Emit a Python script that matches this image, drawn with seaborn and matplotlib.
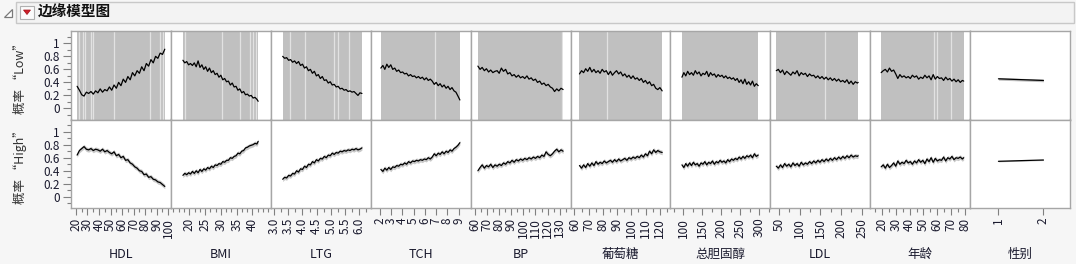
import matplotlib
matplotlib.use("Agg")
import matplotlib.pyplot as plt
import seaborn as sns
import pandas as pd
from matplotlib.ticker import MultipleLocator, FixedLocator, FuncFormatter, NullLocator
from matplotlib.patches import Rectangle, Polygon

# ---------------- data ----------------
variables = ["HDL", "BMI", "LTG", "TCH", "BP", "葡萄糖", "总胆固醇", "LDL", "年龄", "性别"]
row_labels = ["概率 \u201cLow\u201d", "概率 \u201cHigh\u201d"]
title = "边缘模型图"

hdl_x = [21, 23, 25, 27, 29, 31, 33, 35, 37, 39, 41, 43, 45, 47, 49, 51, 53, 55, 57, 59,
         61, 63, 65, 67, 69, 71, 73, 75, 77, 79, 81, 83, 85, 87, 89, 91, 93, 95, 97]
hdl_low = [.34, .28, .21, .19, .25, .23, .26, .22, .27, .24, .30, .25, .29, .27, .33, .28, .36, .31, .40, .35,
           .45, .40, .49, .44, .55, .50, .58, .54, .64, .58, .69, .65, .75, .70, .80, .77, .85, .83, .91]
hdl_high = [.64, .71, .74, .77, .73, .72, .74, .71, .73, .72, .70, .73, .69, .71, .68, .66, .69, .63, .65, .60,
            .62, .56, .57, .52, .50, .46, .44, .40, .39, .34, .35, .30, .31, .27, .26, .23, .22, .19, .16]

bmi_x = [18, 18.6, 19.2, 19.8, 20.4, 21, 21.6, 22.2, 22.8, 23.4, 24, 24.6, 25.2, 25.8, 26.4, 27, 27.6,
         28.2, 28.8, 29.4, 30, 30.6, 31.2, 31.8, 32.4, 33, 33.6, 34.2, 34.8, 35.4, 36, 36.6, 37.2,
         37.8, 38.4, 39, 39.6, 40.2, 40.8, 41.4, 41.8]
bmi_low = [.74, .70, .72, .67, .69, .66, .70, .64, .73, .63, .67, .60, .64, .57, .62, .55, .58,
           .52, .54, .48, .51, .44, .46, .41, .42, .36, .39, .33, .34, .28, .30, .24, .26,
           .21, .22, .19, .20, .16, .17, .14, .11]
bmi_high = [.33, .36, .34, .37, .35, .39, .36, .40, .37, .42, .39, .43, .41, .45, .43, .47, .45,
            .49, .48, .51, .50, .54, .53, .56, .56, .60, .59, .62, .63, .67, .66, .70, .71,
            .75, .76, .78, .79, .80, .82, .81, .85]

ltg_x = [3.30, 3.37, 3.44, 3.51, 3.58, 3.65, 3.72, 3.79, 3.86, 3.93, 4.00, 4.07, 4.14, 4.21,
         4.28, 4.35, 4.42, 4.49, 4.56, 4.63, 4.70, 4.77, 4.84, 4.91, 4.98, 5.05, 5.12, 5.19,
         5.26, 5.33, 5.40, 5.47, 5.54, 5.61, 5.68, 5.75, 5.82, 5.89, 5.96, 6.03, 6.10]
ltg_low = [.80, .77, .78, .74, .75, .71, .73, .69, .72, .66, .68, .62, .64, .58,
           .60, .54, .57, .50, .52, .46, .49, .43, .44, .39, .41, .36, .37, .33,
           .34, .30, .31, .28, .29, .26, .27, .25, .26, .23, .20, .24, .23]
ltg_high = [.27, .30, .29, .33, .32, .36, .35, .40, .38, .43, .42, .47, .45, .50,
            .49, .54, .52, .57, .55, .59, .58, .62, .60, .64, .63, .67, .65, .68,
            .67, .70, .69, .71, .70, .72, .71, .73, .72, .74, .72, .73, .75]

tch_x = [2.1, 2.28, 2.45, 2.63, 2.8, 2.98, 3.15, 3.33, 3.5, 3.68, 3.85, 4.03, 4.2, 4.38,
         4.55, 4.73, 4.9, 5.08, 5.25, 5.43, 5.6, 5.78, 5.95, 6.13, 6.3, 6.48, 6.65, 6.83,
         7.0, 7.18, 7.35, 7.53, 7.7, 7.88, 8.05, 8.23, 8.4, 8.58, 8.75, 8.93, 9.1]
tch_low = [.62, .66, .60, .68, .63, .67, .60, .62, .57, .59, .55, .56, .53, .54,
           .50, .52, .49, .50, .47, .49, .46, .48, .44, .47, .43, .45, .42, .37,
           .40, .35, .38, .33, .36, .31, .34, .29, .32, .27, .25, .19, .13]
tch_high = [.42, .39, .44, .41, .45, .42, .46, .45, .48, .47, .50, .49, .52, .50,
            .54, .52, .55, .54, .56, .55, .57, .56, .58, .57, .60, .58, .61, .66,
            .63, .67, .65, .69, .66, .70, .68, .72, .70, .74, .76, .79, .83]

bp_x = [62.7, 64.5, 66.2, 68, 69.7, 71.5, 73.2, 75, 76.7, 78.5, 80.2, 82, 83.7, 85.5,
        87.2, 89, 90.7, 92.5, 94.2, 96, 97.7, 99.5, 101.2, 103, 104.7, 106.5, 108.2, 110,
        111.7, 113.5, 115.2, 117, 118.7, 120.5, 122.2, 124, 125.7, 127.5, 129.2, 131, 132.7]
bp_low = [.65, .60, .63, .58, .61, .56, .59, .55, .57, .58, .54, .62, .57, .60,
          .53, .55, .50, .52, .48, .51, .47, .49, .46, .50, .45, .47, .43, .45,
          .40, .42, .37, .39, .35, .37, .33, .31, .26, .30, .27, .31, .29]
bp_high = [.40, .45, .49, .44, .48, .46, .50, .45, .49, .47, .50, .48, .52, .50,
           .54, .52, .56, .53, .57, .55, .58, .56, .59, .57, .60, .58, .61, .59,
           .62, .60, .64, .62, .69, .65, .63, .66, .70, .73, .69, .72, .70]

glu_x = [63.5, 65, 66.4, 67.9, 69.3, 70.8, 72.2, 73.7, 75.1, 76.6, 78, 79.5, 80.9, 82.4,
         83.8, 85.3, 86.7, 88.2, 89.6, 91.1, 92.5, 94, 95.4, 96.9, 98.3, 99.8, 101.2, 102.7,
         104.1, 105.6, 107, 108.5, 109.9, 111.4, 112.8, 114.3, 115.7, 117.2, 118.6, 120.1, 121.7]
glu_low = [.53, .58, .55, .61, .57, .63, .56, .60, .55, .58, .54, .60, .56, .58,
           .52, .57, .51, .55, .58, .53, .56, .50, .53, .48, .51, .46, .50, .45,
           .47, .43, .46, .40, .43, .38, .41, .35, .37, .31, .29, .32, .27]
glu_high = [.48, .44, .49, .45, .51, .47, .52, .48, .54, .50, .53, .51, .55, .52,
            .54, .56, .53, .57, .54, .58, .55, .57, .59, .56, .60, .58, .61, .59,
            .62, .60, .64, .61, .66, .63, .70, .66, .72, .68, .71, .69, .68]

tc_x = [97, 102, 107, 112, 117, 122, 127, 132, 137, 142, 147, 152, 157, 162, 167, 172, 177,
        182, 187, 192, 197, 202, 207, 212, 217, 222, 227, 232, 237, 242, 247, 252, 257, 262,
        267, 272, 277, 282, 287, 292, 297]
tc_low = [.48, .55, .50, .57, .52, .55, .51, .58, .53, .56, .50, .54, .52, .57, .49, .55, .51,
          .53, .48, .52, .49, .51, .47, .50, .46, .48, .45, .47, .43, .46, .40, .44, .38, .45,
          .37, .41, .36, .42, .34, .38, .35]
tc_high = [.49, .45, .51, .47, .52, .48, .53, .49, .51, .47, .52, .50, .54, .49, .53, .51, .55,
           .50, .54, .52, .56, .53, .55, .52, .57, .54, .58, .56, .59, .57, .61, .58, .62, .59,
           .63, .61, .64, .60, .66, .62, .64]

ldl_x = [44, 49, 54, 59, 64, 69, 74, 79, 84, 89, 94, 99, 104, 109, 114, 119, 124, 129, 134,
         139, 144, 149, 154, 159, 164, 169, 174, 179, 184, 189, 194, 199, 204, 209, 214, 219,
         224, 229, 234, 239, 241]
ldl_low = [.58, .60, .55, .59, .52, .57, .54, .51, .56, .53, .58, .50, .55, .52, .54, .49, .53,
           .50, .51, .47, .50, .46, .49, .45, .48, .44, .47, .43, .46, .42, .45, .41, .43, .40,
           .44, .38, .42, .37, .41, .39, .40]
ldl_high = [.47, .44, .49, .45, .51, .47, .50, .46, .52, .48, .51, .47, .53, .49, .52, .50, .54,
            .51, .55, .52, .56, .53, .57, .54, .58, .55, .59, .56, .60, .57, .61, .58, .62, .59,
            .63, .60, .64, .61, .63, .62, .63]

age_x = [19.5, 21, 22.5, 24, 25.5, 27, 28.5, 30, 31.5, 33, 34.5, 36, 37.5, 39, 40.5, 42, 43.5,
         45, 46.5, 48, 49.5, 51, 52.5, 54, 55.5, 57, 58.5, 60, 61.5, 63, 64.5, 66, 67.5, 69,
         70.5, 72, 73.5, 75, 76.5, 78, 79]
age_low = [.55, .58, .60, .56, .62, .57, .59, .53, .46, .52, .48, .50, .47, .49, .46, .51, .48,
           .50, .45, .48, .46, .51, .47, .50, .44, .52, .45, .49, .46, .47, .43, .48, .44, .46,
           .42, .45, .41, .44, .40, .43, .42]
age_high = [.46, .49, .44, .50, .45, .48, .52, .47, .55, .50, .53, .51, .56, .52, .54, .50, .55,
            .52, .57, .53, .56, .51, .58, .54, .60, .53, .59, .55, .57, .56, .61, .55, .60, .58,
            .62, .57, .60, .59, .61, .58, .60]

sex_x = [1, 2]
sex_low = [0.455, 0.43]
sex_high = [0.545, 0.565]

# gaps in the wide "Low" confidence band (x positions where it does not cover the panel)
hdl_gaps = [23, 26, 28, 33, 35, 52.7, 84, 93, 95.5]
bmi_gaps = [18.6, 30.5, 36, 39.2, 40.3, 41.2]
ltg_gaps = [3.55, 4.1, 5.1, 5.25, 5.65]
tch_gaps = [6.9]
bp_gaps = [132]
glu_gaps = [83]
tc_gaps = []
ldl_gaps = [162]
age_gaps = [57.6, 59.5, 69.5]
sex_gaps = []

# half-width of the confidence band for the "High" row and for 性别
high_band_halfwidth = 0.035
sex_band_halfwidth = [0.02, 0.008]

xs = [hdl_x, bmi_x, ltg_x, tch_x, bp_x, glu_x, tc_x, ldl_x, age_x, sex_x]
lows = [hdl_low, bmi_low, ltg_low, tch_low, bp_low, glu_low, tc_low, ldl_low, age_low, sex_low]
highs = [hdl_high, bmi_high, ltg_high, tch_high, bp_high, glu_high, tc_high, ldl_high, age_high, sex_high]
gaps = [hdl_gaps, bmi_gaps, ltg_gaps, tch_gaps, bp_gaps, glu_gaps, tc_gaps, ldl_gaps, age_gaps, sex_gaps]

# axis settings: (xlim, major ticks, minor step)
axis_specs = [
    ((15.7, 102.3), list(range(20, 101, 10)), 5),
    ((14.2, 45.8), [20, 25, 30, 35, 40], 5 / 3),
    ((2.88, 6.41), [3.0, 3.5, 4.0, 4.5, 5.0, 5.5, 6.0], 0.25),
    ((1.2, 10.05), list(range(2, 10)), None),
    ((56.7, 138.8), list(range(60, 131, 10)), 5),
    ((57.2, 127.5), list(range(60, 121, 10)), 5),
    ((66.7, 328.8), [100, 150, 200, 250, 300], 25),
    ((29.6, 270), [50, 100, 150, 200, 250], 25),
    ((11.6, 83.6), list(range(20, 81, 10)), 5),
    ((0.37, 2.59), [1, 2], None),
]
tick_fmt = [None, None, "{:.1f}", None, None, None, None, None, None, None]

# ---------------- style ----------------
sns.set_theme(style="white")
plt.rcParams["font.family"] = ["Noto Sans CJK SC", "DejaVu Sans"]
plt.rcParams["axes.unicode_minus"] = False

W, H = 1076, 264
fig = plt.figure(figsize=(W / 100, H / 100), dpi=100)
fig.patch.set_facecolor("#f6f6f6")

left_px, right_px = 71, 1070
top_px, mid_px, bot_px = 31.3, 119.5, 208
ncol = len(variables)
pw = (right_px - left_px) / ncol
YLIM = (-0.17, 1.185)

spine_col = "#a6a6a6"
band_col = "#c0c0c0"


def yfmt(v, _):
    if abs(v) < 1e-9:
        return "0"
    if abs(v - 1) < 1e-9:
        return "1"
    return f"{v:.1f}"


for j in range(ncol):
    x0 = (left_px + j * pw) / W
    for r in range(2):
        y_top = top_px if r == 0 else mid_px
        y_bot = mid_px if r == 0 else bot_px
        ax = fig.add_axes([x0, 1 - y_bot / H, pw / W, (y_bot - y_top) / H])
        ax.set_facecolor("white")
        xlim, majors, minor = axis_specs[j]
        xv = xs[j]
        yv = lows[j] if r == 0 else highs[j]
        df = pd.DataFrame({"x": xv, "y": yv})
        if j < ncol - 1:
            if r == 0:
                ax.fill_between([min(xv), max(xv)], -1, 2, color=band_col, lw=0)
                for g in gaps[j]:
                    ax.axvline(g, color="white", lw=0.9, alpha=0.55)
            else:
                ax.fill_between(df["x"], df["y"] - high_band_halfwidth, df["y"] + high_band_halfwidth,
                                color="#c9c9c9", lw=0)
        else:
            hw = sex_band_halfwidth[r]
            ax.fill_between(df["x"], df["y"] - hw, df["y"] + hw, color="#bdbdbd", lw=0)
        sns.lineplot(data=df, x="x", y="y", ax=ax, color="black", lw=0.9, errorbar=None,
                     estimator=None, sort=False)
        ax.set_xlim(*xlim)
        ax.set_ylim(*YLIM)
        ax.set_xlabel("")
        ax.set_ylabel("")
        for s in ax.spines.values():
            s.set_color(spine_col)
            s.set_linewidth(1.0)
        # y axis
        if j == 0:
            ax.yaxis.set_major_locator(FixedLocator([0, 0.2, 0.4, 0.6, 0.8, 1.0]))
            ax.yaxis.set_minor_locator(FixedLocator([-0.1, 0.1, 0.3, 0.5, 0.7, 0.9, 1.1]))
            ax.yaxis.set_major_formatter(FuncFormatter(yfmt))
            ax.tick_params(axis="y", which="major", left=True, length=6, width=0.8,
                           color="#808080", labelsize=8.5, labelcolor="#1a1a2e", pad=2)
            ax.tick_params(axis="y", which="minor", left=True, length=3, width=0.8, color="#808080")
        else:
            ax.yaxis.set_major_locator(NullLocator())
            ax.yaxis.set_minor_locator(NullLocator())
        # x axis
        if r == 1:
            ax.xaxis.set_major_locator(FixedLocator(majors))
            if minor:
                ax.xaxis.set_minor_locator(MultipleLocator(minor))
            fmt = tick_fmt[j]
            ax.set_xticks(majors)
            ax.set_xticklabels([fmt.format(m) if fmt else str(m) for m in majors])
            ax.tick_params(axis="x", which="major", bottom=True, length=5, width=0.8,
                           color="#808080", labelsize=8.5, labelrotation=90,
                           labelcolor="#1a1a2e", pad=2)
            ax.tick_params(axis="x", which="minor", bottom=True, length=3, width=0.8, color="#808080")
        else:
            ax.xaxis.set_major_locator(NullLocator())
            ax.xaxis.set_minor_locator(NullLocator())
    fig.text((left_px + (j + 0.5) * pw) / W, 1 - 254 / H, variables[j], ha="center", va="center",
             fontsize=9, color="#1a1a2e")

# row labels
fig.text(20 / W, 1 - ((top_px + mid_px) / 2) / H, row_labels[0], rotation=90, ha="center",
         va="center", fontsize=9, color="#333333")
fig.text(20 / W, 1 - ((mid_px + bot_px) / 2) / H, row_labels[1], rotation=90, ha="center",
         va="center", fontsize=9, color="#333333")

# header bar
hdr = fig.add_axes([0, 0, 1, 1], zorder=-1)
hdr.set_xlim(0, W)
hdr.set_ylim(H, 0)
hdr.axis("off")
hdr.add_patch(Rectangle((16, 1.5), W - 18, 21, facecolor="#f3f3f3", edgecolor="#c8c8c8", lw=1))
top_layer = fig.add_axes([0, 0, 1, 1], zorder=5)
top_layer.set_xlim(0, W)
top_layer.set_ylim(H, 0)
top_layer.axis("off")
top_layer.add_patch(Polygon([[4, 16.5], [12, 16.5], [12, 8.5]], closed=True, facecolor="white",
                            edgecolor="#7a7a7a", lw=0.9))
top_layer.add_patch(Rectangle((20, 5.5), 14, 13, facecolor="#fbfbfb", edgecolor="#b0b0b0", lw=0.8))
top_layer.add_patch(Polygon([[23.5, 10], [30.5, 10], [27, 14.5]], closed=True, facecolor="#d0202a",
                            edgecolor="#a01018", lw=0.5))
top_layer.text(38, 12, title, ha="left", va="center", fontsize=10.5, fontweight="bold", color="#111111")

fig.savefig("out.png", dpi=100, facecolor=fig.get_facecolor())
